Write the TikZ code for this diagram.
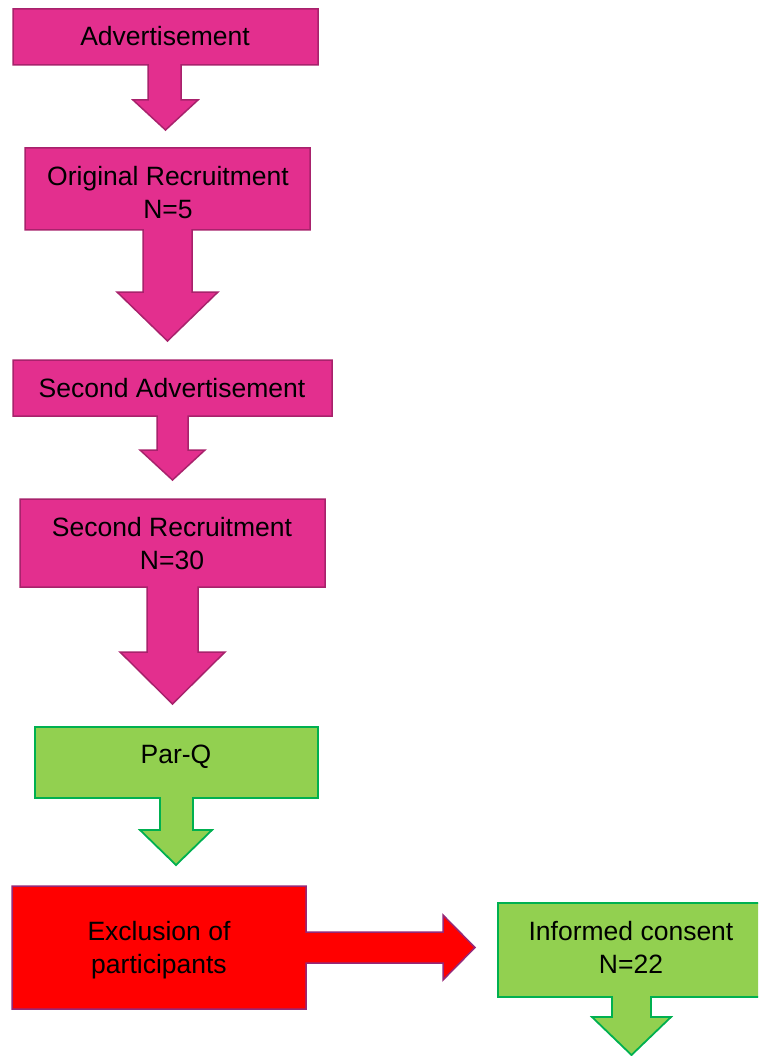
\documentclass[tikz,border=0pt]{standalone}
\usepackage{fontspec}
\setmainfont{Liberation Sans}
\definecolor{pinkfill}{RGB}{227,47,142}
\definecolor{pinkline}{RGB}{168,34,108}
\definecolor{greenfill}{RGB}{146,208,80}
\definecolor{greenline}{RGB}{0,176,80}
\definecolor{redfill}{RGB}{255,0,0}
\definecolor{redline}{RGB}{150,40,120}
\tikzset{
  pinkshape/.style={fill=pinkfill,draw=pinkline,line width=1.5pt,line join=miter},
  greenshape/.style={fill=greenfill,draw=greenline,line width=1.8pt,line join=miter},
  redshape/.style={fill=redfill,draw=redline,line width=1.5pt,line join=miter},
  label/.style={font=\fontsize{26.5}{33}\selectfont,align=center,text=black,inner sep=0pt}
}
% #1 style, #2 x1, #3 y1, #4 x2, #5 y2, #6 shaft left, #7 shaft right, #8 shaft bottom, #9 head left
\newcommand\dcallout[9]{%
  \def\dcstyle{#1}\def\dcxa{#2}\def\dcya{#3}\def\dcxb{#4}\def\dcyb{#5}%
  \def\dcsl{#6}\def\dcsr{#7}\def\dcsy{#8}\def\dchl{#9}\dcfinish}
\newcommand\dcfinish[2]{% #1 head right, #2 tip y
  \path[\dcstyle] (\dcxa,\dcya) -- (\dcxb,\dcya) -- (\dcxb,\dcyb) -- (\dcsr,\dcyb) -- (\dcsr,\dcsy)
    -- (#1,\dcsy) -- ({(\dchl+#1)/2},#2) -- (\dchl,\dcsy) -- (\dcsl,\dcsy) -- (\dcsl,\dcyb)
    -- (\dcxa,\dcyb) -- cycle;}
\begin{document}
\begin{tikzpicture}[x=1pt,y=-1pt]
\useasboundingbox (0,0) rectangle (758,1056);
\clip (0,0) rectangle (758,1056);
% Advertisement
\dcallout{pinkshape}{13}{9}{318}{65}{148}{181}{100}{133}{198}{130}
\node[label] (adv) at (165,36) {Advertisement};
% Original Recruitment
\dcallout{pinkshape}{25}{148}{310}{230}{143}{192}{292}{117}{218}{341}
\node[label] (orig) at (168,192.5) {Original Recruitment\\N=5};
% Second Advertisement
\dcallout{pinkshape}{13}{360}{332}{416}{157}{188}{450}{140}{205}{480}
\node[label] (adv2) at (172,388) {Second Advertisement};
% Second Recruitment
\dcallout{pinkshape}{20}{499}{325}{587}{147}{198}{652}{120}{225}{704}
\node[label] (rec2) at (172,544) {Second Recruitment\\N=30};
% Par-Q
\dcallout{greenshape}{35}{727}{318}{798}{160}{193}{830}{140}{212}{865}
\node[label] (parq) at (176,757) {Par-Q};
% Exclusion
\path[redshape] (12,886) -- (306,886) -- (306,932) -- (443,932) -- (443,915) -- (475,947.5)
  -- (443,980) -- (443,963) -- (306,963) -- (306,1009) -- (12,1009) -- cycle;
\node[label] (excl) at (159,950) {Exclusion of\\participants};
% Informed consent
\dcallout{greenshape}{498}{903}{764}{997}{612}{651}{1017}{592}{671}{1055}
\node[label] (cons) at (631,947) {Informed consent\\N=22};
\end{tikzpicture}
\end{document}
